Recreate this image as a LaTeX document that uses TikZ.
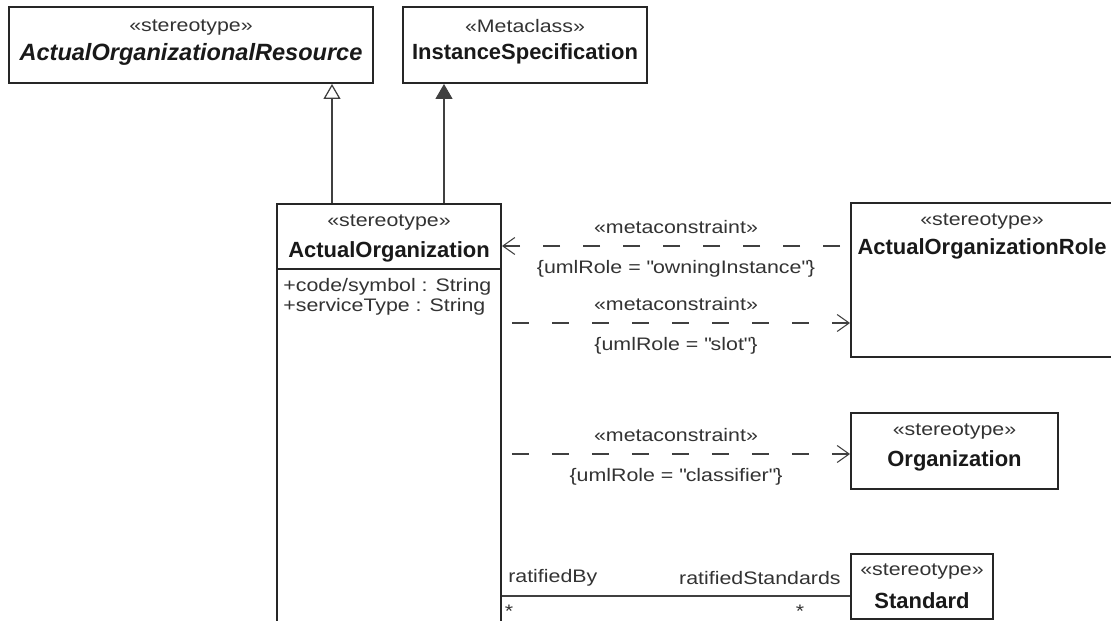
\documentclass[tikz,border=0pt]{standalone}
\usepackage{fontspec}
\setmainfont{Liberation Sans}
\newfontfamily\umlfont{Liberation Sans}[FakeStretch=1.18]
\usetikzlibrary{arrows.meta,positioning}

\begin{document}
\begin{tikzpicture}[
  every node/.style={font=\umlfont\fontsize{10.3}{12}\selectfont, text=black!80, inner sep=0pt},
  classbox/.style={rectangle, draw=black!85, line width=1.1pt, fill=white},
  cname/.style={font=\fontsize{12.5}{14}\selectfont\bfseries, text=black!90},
  aname/.style={font=\fontsize{13.4}{15}\selectfont\bfseries\itshape, text=black!90},
  attr/.style={anchor=west},
  gen/.style={draw=black!75, line width=0.7pt, -{Triangle[open, length=0.3cm, width=0.34cm]}},
  real/.style={draw=black!75, fill=black!75, line width=0.7pt, -{Triangle[length=0.3cm, width=0.34cm]}},
  mc/.style={draw=black!75, line width=0.6pt, dash pattern=on 0.34cm off 0.46cm, dash phase=0.6cm, -{Straight Barb[length=0.24cm, width=0.34cm]}},
  assocline/.style={draw=black!75, line width=0.6pt},
]

\useasboundingbox (0,0) rectangle (22.22,-12.42);
\fill[white] (0,0) rectangle (22.22,-12.42);

% top classes
\node[classbox, minimum width=7.28cm, minimum height=1.52cm] (aor) at (3.82,-0.9) {};
\node (aorst) at ([yshift=-0.42cm]aor.north) {«stereotype»};
\node[aname] (aorname) at ([yshift=-0.96cm]aor.north) {ActualOrganizationalResource};

\node[classbox, minimum width=4.88cm, minimum height=1.52cm] (is) at (10.5,-0.9) {};
\node (isst) at ([yshift=-0.4cm]is.north) {«Metaclass»};
\node[cname] (isname) at ([yshift=-0.96cm]is.north) {InstanceSpecification};

% main class
\node[classbox, minimum width=4.48cm, minimum height=8.8cm, anchor=north] (ao) at (7.78,-4.06) {};
\node (aost) at ([yshift=-0.4cm]ao.north) {«stereotype»};
\node[cname] (aoname) at ([yshift=-0.98cm]ao.north) {ActualOrganization};
\draw[black!85, line width=1.1pt] ([yshift=-1.32cm]ao.north west) -- ([yshift=-1.32cm]ao.north east);
\node[attr] (aoattr1) at ([xshift=0.14cm, yshift=-1.68cm]ao.north west) {+code/symbol : String};
\node[attr] (aoattr2) at ([xshift=0.14cm, yshift=-2.08cm]ao.north west) {+serviceType : String};

% right classes
\node[classbox, minimum width=5.24cm, minimum height=3.08cm] (arole) at (19.64,-5.6) {};
\node (arolest) at ([yshift=-0.38cm]arole.north) {«stereotype»};
\node[cname] (arolename) at ([yshift=-0.94cm]arole.north) {ActualOrganizationRole};

\node[classbox, minimum width=4.14cm, minimum height=1.52cm] (org) at (19.09,-9.02) {};
\node (orgst) at ([yshift=-0.38cm]org.north) {«stereotype»};
\node[cname] (orgname) at ([yshift=-0.98cm]org.north) {Organization};

\node[classbox, minimum width=2.84cm, minimum height=1.3cm] (std) at (18.44,-11.73) {};
\node (stdst) at ([yshift=-0.36cm]std.north) {«stereotype»};
\node[cname] (stdname) at ([yshift=-0.96cm]std.north) {Standard};

% generalizations
\coordinate (gen1) at ([xshift=-1.14cm]ao.north);
\coordinate (gen2) at ([xshift=1.1cm]ao.north);
\draw[gen] (gen1) -- (gen1 |- aor.south);
\draw[real] (gen2) -- (gen2 |- is.south);

% metaconstraints
\coordinate (mc1) at ([yshift=0.68cm]arole.west);
\coordinate (mc2) at ([yshift=-0.86cm]arole.west);
\coordinate (mc3) at ([yshift=-0.06cm]org.west);
\draw[mc] (mc1) -- (ao.east |- mc1)
  node[midway, above=0.24cm] (mc1st) {«metaconstraint»}
  node[midway, below=0.28cm] (mc1role) {\{umlRole = \textquotedbl owningInstance\textquotedbl\}};
\draw[mc] (ao.east |- mc2) -- (mc2)
  node[midway, above=0.24cm] (mc2st) {«metaconstraint»}
  node[midway, below=0.28cm] (mc2role) {\{umlRole = \textquotedbl slot\textquotedbl\}};
\draw[mc] (ao.east |- mc3) -- (mc3)
  node[midway, above=0.24cm] (mc3st) {«metaconstraint»}
  node[midway, below=0.28cm] (mc3role) {\{umlRole = \textquotedbl classifier\textquotedbl\}};

% association
\coordinate (assoc) at (0,-11.92);
\draw[assocline] (ao.east |- assoc) -- (std.west |- assoc);
\node[anchor=west] (rby) at ([xshift=0.12cm, yshift=0.36cm]ao.east |- assoc) {ratifiedBy};
\node[anchor=east] (rstd) at ([xshift=-0.18cm, yshift=0.36cm]std.west |- assoc) {ratifiedStandards};
\node[anchor=north] (mult1) at ([xshift=0.14cm, yshift=-0.18cm]ao.east |- assoc) {*};
\node[anchor=north] (mult2) at ([xshift=-1.0cm, yshift=-0.18cm]std.west |- assoc) {*};

\end{tikzpicture}
\end{document}
